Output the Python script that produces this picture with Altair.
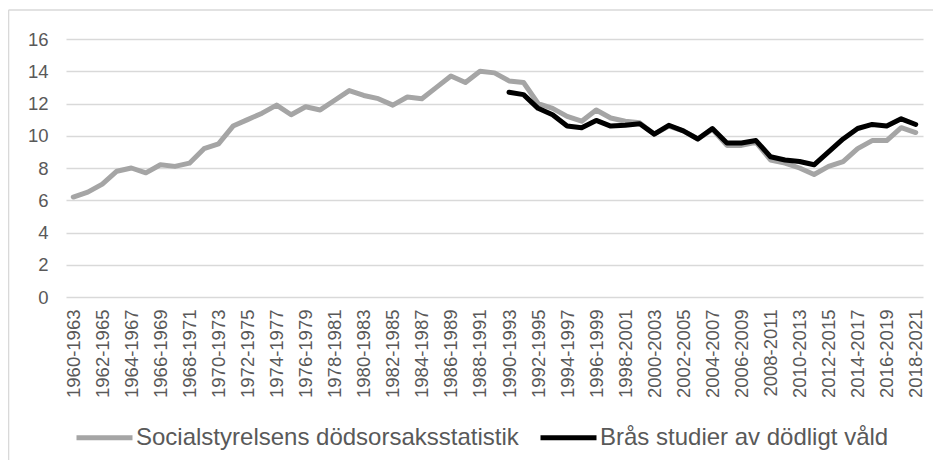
import altair as alt
import pandas as pd

# Categories: overlapping 4-year periods
periods = [f"{y}-{y + 3}" for y in range(1960, 2019)]
tick_labels = periods[::2]

series_a = "Socialstyrelsens dödsorsaksstatistik"
series_b = "Brås studier av dödligt våld"

socialstyrelsen = [
    6.2, 6.5, 7.0, 7.8, 8.0, 7.7, 8.2, 8.1, 8.3, 9.2,
    9.5, 10.6, 11.0, 11.4, 11.9, 11.3, 11.8, 11.6, 12.2, 12.8,
    12.5, 12.3, 11.9, 12.4, 12.3, 13.0, 13.7, 13.3, 14.0, 13.9,
    13.4, 13.3, 12.0, 11.7, 11.2, 10.9, 11.6, 11.1, 10.9, 10.8,
    10.1, 10.6, 10.3, 9.8, 10.4, 9.4, 9.4, 9.6, 8.5, 8.3,
    8.0, 7.6, 8.1, 8.4, 9.2, 9.7, 9.7, 10.5, 10.2,
]

bra_start = 30  # 1990-1993
bra = [
    12.7, 12.55, 11.7, 11.3, 10.6, 10.5, 10.95, 10.6, 10.65, 10.75,
    10.1, 10.65, 10.3, 9.8, 10.45, 9.55, 9.55, 9.7, 8.7, 8.5,
    8.4, 8.2, 9.0, 9.8, 10.45, 10.7, 10.6, 11.05, 10.7,
]

y_ticks = list(range(0, 17, 2))

df_a = pd.DataFrame({"period": periods, "value": socialstyrelsen, "serie": series_a})
df_b = pd.DataFrame({"period": periods[bra_start:bra_start + len(bra)], "value": bra, "serie": series_b})

FONT = "Liberation Sans"
TXT = "#595959"
GRID = "#d9d9d9"

x_enc = alt.X(
    "period:N",
    sort=periods,
    scale=alt.Scale(type="point", padding=0.5, domain=periods),
    axis=alt.Axis(
        title=None, values=tick_labels, labelAngle=270, labelFontSize=18.5,
        labelColor=TXT, labelFont=FONT, ticks=False, domain=False, grid=False,
        labelPadding=12, labelOverlap=False,
    ),
)
y_enc = alt.Y(
    "value:Q",
    scale=alt.Scale(domain=[0, 16], nice=False, zero=True),
    axis=alt.Axis(
        title=None, values=y_ticks, labelFontSize=18.5, labelColor=TXT, labelFont=FONT,
        ticks=False, domain=False, grid=True, gridColor=GRID, gridWidth=1.6,
        labelPadding=18,
    ),
)
color_enc = alt.Color(
    "serie:N",
    scale=alt.Scale(domain=[series_a, series_b], range=["#a5a5a5", "#000000"]),
    legend=alt.Legend(
        title=None, orient="none", legendX=8, legendY=368, direction="horizontal",
        symbolType="stroke", symbolSize=3136, symbolStrokeWidth=5,
        labelFontSize=24, labelColor=TXT, labelFont=FONT, labelOffset=1,
        labelLimit=0, columnPadding=11, symbolOpacity=1,
    ),
)

line_a = alt.Chart(df_a).mark_line(strokeWidth=5, strokeJoin="round", strokeCap="round").encode(
    x=x_enc, y=y_enc, color=color_enc
)
line_b = alt.Chart(df_b).mark_line(strokeWidth=5, strokeJoin="round", strokeCap="round").encode(
    x=x_enc, y=y_enc, color=color_enc
)

frame_src = pd.DataFrame({"k": [0]})
frame_top = alt.Chart(frame_src).mark_rule(color=GRID, strokeWidth=1.6).encode(
    x=alt.value(-57.5), x2=alt.value(900), y=alt.value(-29)
)
frame_left = alt.Chart(frame_src).mark_rule(color=GRID, strokeWidth=1.6).encode(
    x=alt.value(-57.5), y=alt.value(-29), y2=alt.value(440)
)

chart = (
    alt.layer(frame_top, frame_left, line_a, line_b)
    .properties(
        width=857, height=258,
        autosize=alt.AutoSizeParams(type="none"),
        padding={"left": 58, "top": 31, "right": 10, "bottom": 163},
        background="white",
    )
    .configure_view(stroke=None)
)

chart.save("out.html", embed_options={"renderer": "svg", "actions": False})
